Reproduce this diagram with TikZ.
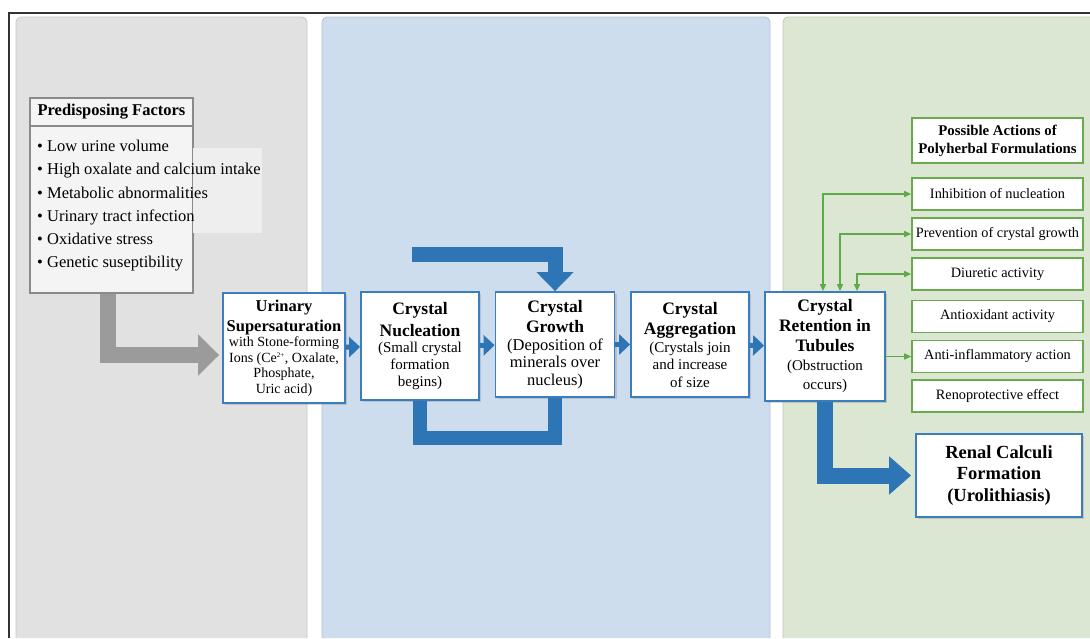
\documentclass[tikz,border=0pt]{standalone}
\usepackage{fontspec}
\setmainfont{Liberation Serif}
\usetikzlibrary{arrows.meta,shadows}

\definecolor{panelgray}{HTML}{E1E1E1}
\definecolor{panelblue}{HTML}{CEDDED}
\definecolor{panelgreen}{HTML}{DBE7D2}
\definecolor{flowblue}{HTML}{2E75B6}
\definecolor{boxblue}{HTML}{3C7DBE}
\definecolor{actgreen}{HTML}{6AAA4E}
\definecolor{linkgreen}{HTML}{5FAA48}
\definecolor{arrowgray}{HTML}{9B9B9B}
\definecolor{factgray}{HTML}{8A8A8A}
\definecolor{factfill}{HTML}{F4F4F4}

\newcommand{\setfs}[2]{\fontsize{#1}{#2}\selectfont}

\tikzset{
  panel/.style={line width=0.8pt, rounded corners=5pt},
  factbox/.style={draw=factgray, line width=1.5pt, fill=factfill, minimum width=163pt},
  flowbox/.style={draw=boxblue, line width=1.8pt, fill=white, align=flush center,
    inner xsep=2pt, inner ysep=2pt, text width=#1,
    drop shadow={opacity=0.3, shadow xshift=2pt, shadow yshift=-2pt}},
  actbox/.style={draw=actgreen, line width=1.6pt, fill=white, align=flush center,
    minimum width=171pt, minimum height=32pt, inner sep=1pt,
    font=\setfs{14.3}{17}},
  smallflow/.style={draw=flowblue, line width=5pt, -{Triangle[width=20pt,length=11pt]}},
  greenlink/.style={draw=linkgreen, line width=1.3pt, >={Triangle[width=6pt,length=7pt]}}
}

\begin{document}
\begin{tikzpicture}[x=1pt,y=-1pt]
\useasboundingbox (0,0) rectangle (1090,638);
\fill[white] (0,0) rectangle (1090,638);

% background panels
\draw[panel, draw=panelgray!88!black, fill=panelgray] (16,638) -- (16,17) -- (307,17) -- (307,638);
\draw[panel, draw=panelblue!88!black, fill=panelblue] (322,638) -- (322,17) -- (770,17) -- (770,638);
\draw[panel, draw=panelgreen!88!black, fill=panelgreen] (783,638) -- (783,17) -- (1095,17) -- (1095,638);
\draw[black!80, line width=1.2pt] (9,638) -- (9,13) -- (1090,13);

% predisposing factors
\node[factbox, minimum height=28pt, font=\setfs{16.5}{20}\bfseries] (factshead) at (111.5,112) {Predisposing Factors};
\node[factbox, minimum height=167pt] (facts) at (111.5,209.5) {};
\fill[factfill!70!panelgray] (193,148) rectangle (262,233);
\node[anchor=north west, align=left, inner sep=0pt, font=\setfs{16.5}{23.2}] (factlist) at (37,140)
  {• Low urine volume\\• High oxalate and calcium intake\\• Metabolic abnormalities\\%
   • Urinary tract infection\\• Oxidative stress\\• Genetic suseptibility};

% main sequence
\node[flowbox=118pt, minimum height=110pt, font=\setfs{14}{15.6}] (urin) at (284,348)
  {{\setfs{16.5}{20}\bfseries Urinary\\Supersaturation\par}with Stone-forming\\Ions (Ce\textsuperscript{\setfs{7}{8}2+}, Oxalate,\\Phosphate,\\Uric acid)};
\node[flowbox=114pt, minimum height=108pt, font=\setfs{15}{16.8}] (nucl) at (420,346)
  {{\setfs{17.5}{21.5}\bfseries Crystal\\Nucleation\par}(Small crystal\\formation\\begins)};
\node[flowbox=115pt, minimum height=105pt, font=\setfs{16.5}{17.5}] (grow) at (555,344.5)
  {{\setfs{17.5}{20}\bfseries Crystal\\Growth\par}(Deposition of\\minerals over\\nucleus)};
\node[flowbox=114pt, minimum height=105pt, font=\setfs{15}{17.5}] (aggr) at (690,344.5)
  {{\setfs{17.5}{20.5}\bfseries Crystal\\Aggregation\par}(Crystals join\\and increase\\of size};
\node[flowbox=116pt, minimum height=109pt, font=\setfs{15}{19}] (ret) at (825,346.5)
  {{\setfs{17.5}{20}\bfseries Crystal\\Retention in\\Tubules\par}(Obstruction\\occurs)};
\node[flowbox=162pt, minimum height=83pt, font=\setfs{18.5}{21.7}\bfseries] (renal) at (999,475.5)
  {Renal Calculi\\Formation\\(Urolithiasis)};

\draw[smallflow] (urin) -- (nucl);
\draw[smallflow] (nucl) -- (grow);
\draw[smallflow] (grow) -- (aggr);
\draw[smallflow] (aggr) -- (ret);

\draw[arrowgray, line width=16pt, -{Triangle[width=40pt,length=21pt]}, shorten >=3pt]
  ([xshift=-3.5pt]facts.south) |- ([yshift=-7pt]urin.west);

\coordinate (loopstart) at (412,254.5);
\draw[flowblue, line width=15pt, -{Triangle[width=36pt,length=19pt]}] (loopstart) -| (grow.north);
\draw[flowblue, line width=14pt] (nucl.south) -- ++(0,37) -| (grow.south);
\draw[flowblue, line width=16pt, -{Triangle[width=37pt,length=22pt]}, shorten >=4pt] (ret.south) |- (renal.west);

% polyherbal actions
\node[actbox, minimum height=45pt, font=\setfs{14.8}{18}\bfseries] (acthead) at (997.5,140.5)
  {Possible Actions of\\Polyherbal Formulations};
\node[actbox] (inhib) at (997.5,194) {Inhibition of nucleation};
\node[actbox] (prev) at (997.5,234) {Prevention of crystal growth};
\node[actbox] (diur) at (997.5,274) {Diuretic activity};
\node[actbox] (antiox) at (997.5,316.5) {Antioxidant activity};
\node[actbox] (anti) at (997.5,356.5) {Anti-inflammatory action};
\node[actbox] (reno) at (997.5,396) {Renoprotective effect};

\draw[greenlink, <->] ([xshift=-2pt]ret.north) |- (inhib.west);
\draw[greenlink, <->] ([xshift=15pt]ret.north) |- (prev.west);
\draw[greenlink, <->] ([xshift=32pt]ret.north) |- (diur.west);
\draw[greenlink, ->] (ret.east |- anti.west) -- (anti.west);
\end{tikzpicture}
\end{document}
